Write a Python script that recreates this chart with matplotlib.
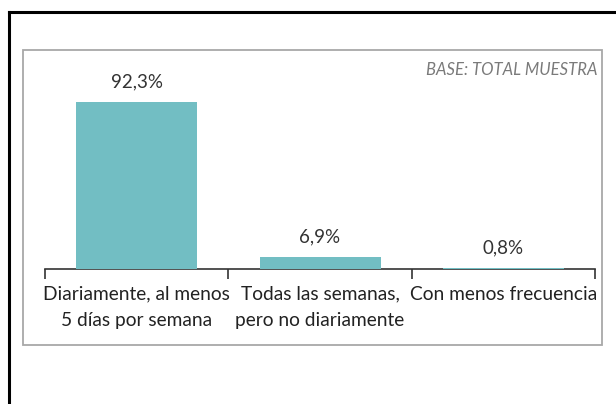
import matplotlib.pyplot as plt
from matplotlib.patches import Rectangle
from matplotlib.lines import Line2D

# Chart data
categories = ["Diariamente, al menos\n5 días por semana",
              "Todas las semanas,\npero no diariamente",
              "Con menos frecuencia"]
values = [92.3, 6.9, 0.8]
value_labels = ["92,3%", "6,9%", "0,8%"]

bar_color = "#72bec3"
W, H = 616, 404

plt.rcParams["font.family"] = ["Lato", "DejaVu Sans"]

fig = plt.figure(figsize=(W / 100, H / 100), dpi=100)
fig.patch.set_facecolor("white")

# Axes placed in pixel terms: x 45..595, baseline at y=269
x0, x1 = 45, 595
y_base, y_top = 269, 88
ax = fig.add_axes([x0 / W, 1 - y_base / H, (x1 - x0) / W, (y_base - y_top) / H])

pos = list(range(len(categories)))
ax.bar(pos, values, width=0.66, color=bar_color, zorder=3)
ax.set_xlim(-0.5, 2.5)
ax.set_ylim(0, 100)

for p, v, lab in zip(pos, values, value_labels):
    ax.annotate(lab, (p, v), xytext=(0, 8), textcoords="offset points",
                ha="center", va="bottom", fontsize=13.5, color="#333333")

for s in ["top", "right", "left"]:
    ax.spines[s].set_visible(False)
ax.spines["bottom"].set_color("#333333")
ax.spines["bottom"].set_linewidth(1.2)
ax.set_yticks([])
ax.set_xticks(pos)
ax.set_xticklabels(categories, fontsize=13.8, color="#222222", linespacing=1.65)
ax.tick_params(axis="x", which="major", length=0, pad=12)
ax.set_xticks([-0.5, 0.5, 1.5, 2.5], minor=True)
ax.tick_params(axis="x", which="minor", length=7, width=1.2, color="#333333",
               direction="out")

fig.text(598 / W, 1 - 70 / H, "BASE: TOTAL MUESTRA",
         ha="right", va="center", fontsize=12, style="italic", color="#7a7a7a")

# Inner gray frame
fig.patches.append(Rectangle((23 / W, 1 - 345 / H), (602 - 23) / W, (345 - 50) / H,
                             transform=fig.transFigure, fill=False,
                             edgecolor="#a8a8a8", linewidth=1.3))
# Outer black frame (left and top edges only visible)
fig.lines.append(Line2D([9 / W, 9 / W], [0, 1 - 12 / H], transform=fig.transFigure,
                        color="black", linewidth=2.2))
fig.lines.append(Line2D([9 / W, 1], [1 - 12 / H, 1 - 12 / H], transform=fig.transFigure,
                        color="black", linewidth=2.2))

fig.savefig("out.png", dpi=100)
